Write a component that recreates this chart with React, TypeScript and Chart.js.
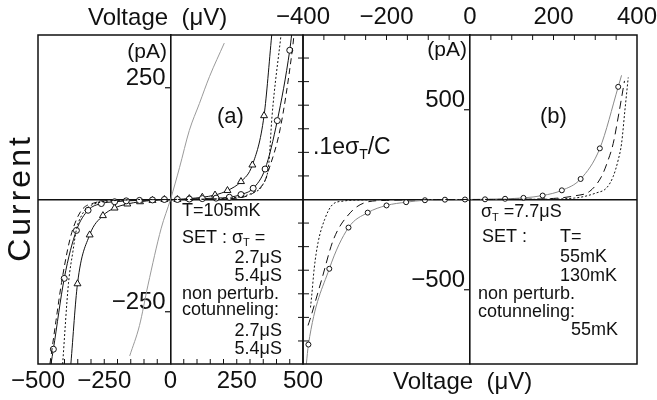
import React, { useEffect, useRef } from 'react';
import { Chart, registerables } from 'chart.js';

Chart.register(...registerables);

const FONT = '"Liberation Sans", Arial, sans-serif';
const INK = '#111111';

// ---------- Panel (a): T = 105 mK ----------
const aXRange = [-500, 500];
const aYRange = [-367, 367];
const aXTicks = [-500, -250, 0, 250, 500];
const aXMinorTicks = [-450, -400, -350, -300, -250, -200, -150, -100, -50, 50, 100, 150, 200, 250, 300, 350, 400, 450];
const aYTicks = [-250, 0, 250];

const aOhmicV = [-154, -117, -85, -35, 0, 34, 71, 109, 147, 203];
const aOhmicI = [-349, -281, -191, -64, 0, 71, 154, 214, 274, 349];

const aSet27V = [-451, -442, -401, -355, -311, -261, -211, -167, -117, -68, -23, 26, 71, 120, 172, 222, 266, 312, 357, 403, 450, 457];
const aSet27I = [-367, -334, -176, -69, -24, -9, -5, -3, -2, -1, 0, 0, 1, 2, 3, 5, 11, 25, 68, 176, 333, 367];

const aSet54V = [-376, -351, -305, -255, -211, -163, -115, -68, -23, 26, 71, 120, 168, 215, 266, 309, 353, 382];
const aSet54I = [-367, -188, -79, -36, -19, -10, -5, -2, 0, 0, 2, 5, 10, 20, 40, 77, 187, 367];

const aCot27V = [-455, -432, -411, -380, -355, -330, -290, -250, -150, 0, 150, 250, 290, 316, 353, 370, 414, 460, 466];
const aCot27I = [-367, -270, -185, -90, -45, -20, -8, -3, -1, 0, 1, 3, 8, 16, 38, 65, 158, 335, 367];

const aCot54V = [-407, -385, -368, -355, -335, -310, -270, -200, -100, 0, 100, 200, 270, 310, 348, 371, 383, 417];
const aCot54I = [-367, -187, -115, -67, -35, -17, -7, -2, 0, 0, 0, 2, 7, 15, 33, 80, 185, 367];

// ---------- Panel (b): sigma_T = 7.7 uS ----------
const bXRange = [-400, 400];
const bYRange = [-914, 914];
const bXTicks = [-400, -200, 0, 200, 400];
const bXMinorTicks = [-350, -300, -250, -200, -150, -100, -50, 50, 100, 150, 200, 250, 300, 350];
const bYTicks = [-500, 0, 500];
const bUnitTicks = [-786, -655, -524, -393, -262, -131, 131, 262, 393, 524, 655, 786];

const bSolidV = [-392, -387, -337, -291, -245, -200, -153, -108, -60, -12, 36, 84, 128, 174, 220, 265, 311, 355, 363];
const bSolidI = [-914, -806, -385, -156, -73, -33, -15, -4, -1, 0, 1, 4, 9, 22, 51, 114, 284, 626, 690];

const bDashV = [-388, -383, -355, -327, -287, -248, -200, -100, 0, 100, 200, 250, 287, 315, 331, 343, 355, 370];
const bDashI = [-700, -665, -443, -222, -74, -15, -5, -1, 0, 1, 6, 20, 46, 128, 220, 311, 458, 659];

const bDotV = [-382, -379, -373, -364, -348, -330, -304, -250, -150, 0, 150, 250, 303, 327, 343, 355, 363, 371, 379];
const bDotI = [-600, -531, -380, -240, -110, -30, -9, -2, 0, 0, 1, 8, 37, 64, 128, 220, 311, 495, 678];

// ---------- helpers ----------
const pts = (v: number[], i: number[]) => v.map((x, k) => ({ x, y: i[k] }));

function curve(v: number[], i: number[], opts: any) {
  const n = v.length;
  const r = opts.marker ? opts.marker.r : 0;
  return {
    data: pts(v, i),
    borderColor: opts.color || INK,
    borderWidth: opts.width || 1,
    borderDash: opts.dash || [],
    cubicInterpolationMode: 'monotone',
    fill: false,
    pointStyle: opts.marker ? opts.marker.style : 'circle',
    pointRadius: (c: any) => (c.dataIndex === 0 || c.dataIndex === n - 1 ? 0 : r),
    pointHoverRadius: 0,
    pointBackgroundColor: '#ffffff',
    pointBorderColor: INK,
    pointBorderWidth: 1,
  };
}

type Part = { t: string; sub?: boolean };

function drawParts(ctx: CanvasRenderingContext2D, parts: Part[], x: number, y: number, size: number, align: 'left' | 'right') {
  const subSize = Math.round(size * 0.62);
  const widths = parts.map((p) => {
    ctx.font = `${p.sub ? subSize : size}px ${FONT}`;
    return ctx.measureText(p.t).width;
  });
  const total = widths.reduce((a, b) => a + b, 0);
  let cx = align === 'right' ? x - total : x;
  ctx.textAlign = 'left';
  ctx.textBaseline = 'middle';
  ctx.fillStyle = INK;
  parts.forEach((p, k) => {
    ctx.font = `${p.sub ? subSize : size}px ${FONT}`;
    ctx.fillText(p.t, cx, p.sub ? y + size * 0.3 : y);
    cx += widths[k];
  });
}

const fmt = (v: number) => (v < 0 ? '\u2212' + Math.abs(v) : String(v));

function frame(ctx: CanvasRenderingContext2D, ca: any) {
  ctx.strokeStyle = INK;
  ctx.lineWidth = 1.5;
  ctx.strokeRect(ca.left, ca.top, ca.right - ca.left, ca.bottom - ca.top);
}

const panelAPlugin = {
  id: 'panelA',
  afterDraw(chart: any) {
    const { ctx, chartArea: ca, scales } = chart;
    ctx.save();
    frame(ctx, ca);
    ctx.lineWidth = 1;
    aXMinorTicks.forEach((v) => {
      const x = scales.x.getPixelForValue(v);
      ctx.beginPath();
      ctx.moveTo(x, ca.bottom);
      ctx.lineTo(x, ca.bottom - 5);
      ctx.stroke();
    });
    drawParts(ctx, [{ t: 'Voltage  (\u03bcV)' }], 88, 18, 24, 'left');
    // rotated title
    ctx.save();
    ctx.translate(21, 198);
    ctx.rotate(-Math.PI / 2);
    ctx.font = `32px ${FONT}`;
    (ctx as any).letterSpacing = '3px';
    ctx.textAlign = 'center';
    ctx.textBaseline = 'middle';
    ctx.fillStyle = INK;
    ctx.fillText('Current', 0, 0);
    ctx.restore();
    drawParts(ctx, [{ t: '(pA)' }], 167, 52, 21, 'right');
    drawParts(ctx, [{ t: '(a)' }], 217, 117, 22, 'left');
    drawParts(ctx, [{ t: 'T=105mK' }], 182, 211, 18, 'left');
    drawParts(ctx, [{ t: 'SET : \u03c3' }, { t: 'T', sub: true }, { t: ' =' }], 182, 238, 18, 'left');
    drawParts(ctx, [{ t: '2.7\u03bcS' }], 282, 258.5, 18, 'right');
    drawParts(ctx, [{ t: '5.4\u03bcS' }], 282, 276.5, 18, 'right');
    drawParts(ctx, [{ t: 'non perturb.' }], 182, 294.5, 18, 'left');
    drawParts(ctx, [{ t: 'cotunneling:' }], 182, 310.5, 18, 'left');
    drawParts(ctx, [{ t: '2.7\u03bcS' }], 282, 331.5, 18, 'right');
    drawParts(ctx, [{ t: '5.4\u03bcS' }], 282, 349, 18, 'right');
    ctx.restore();
  },
};

const panelBPlugin = {
  id: 'panelB',
  afterDraw(chart: any) {
    const { ctx, chartArea: ca, scales } = chart;
    ctx.save();
    frame(ctx, ca);
    ctx.lineWidth = 1;
    bXMinorTicks.forEach((v) => {
      const x = scales.x.getPixelForValue(v);
      ctx.beginPath();
      ctx.moveTo(x, ca.top);
      ctx.lineTo(x, ca.top + 5);
      ctx.stroke();
    });
    bUnitTicks.forEach((v) => {
      const y = scales.y.getPixelForValue(v);
      ctx.beginPath();
      ctx.moveTo(ca.left - 5, y);
      ctx.lineTo(ca.left + 6, y);
      ctx.stroke();
    });
    drawParts(ctx, [{ t: '(pA)' }], 467, 50, 21, 'right');
    drawParts(ctx, [{ t: '(b)' }], 540, 117, 22, 'left');
    drawParts(ctx, [{ t: '.1e\u03c3' }, { t: 'T', sub: true }, { t: '/C' }], 313, 148, 23, 'left');
    drawParts(ctx, [{ t: '\u03c3' }, { t: 'T', sub: true }, { t: ' =7.7\u03bcS' }], 481, 212.5, 18, 'left');
    drawParts(ctx, [{ t: 'SET :' }], 482, 237.5, 18, 'left');
    drawParts(ctx, [{ t: 'T=' }], 560, 237.5, 18, 'left');
    drawParts(ctx, [{ t: '55mK' }], 607, 257.5, 18, 'right');
    drawParts(ctx, [{ t: '130mK' }], 617, 276, 18, 'right');
    drawParts(ctx, [{ t: 'non perturb.' }], 478, 294, 18, 'left');
    drawParts(ctx, [{ t: 'cotunneling:' }], 478, 312, 18, 'left');
    drawParts(ctx, [{ t: '55mK' }], 618, 330, 18, 'right');
    drawParts(ctx, [{ t: 'Voltage  (\u03bcV)' }], 393, 382, 24, 'left');
    ctx.restore();
  },
};

function xAxis(range: number[], ticks: number[], position: 'top' | 'bottom', height: number) {
  return {
    type: 'linear',
    position,
    min: range[0],
    max: range[1],
    grid: { display: false, drawTicks: false },
    border: { display: false },
    afterBuildTicks: (s: any) => {
      s.ticks = ticks.map((value) => ({ value }));
    },
    afterFit: (s: any) => {
      s.height = height;
      s.paddingLeft = 0;
      s.paddingRight = 0;
    },
    ticks: {
      autoSkip: false,
      maxRotation: 0,
      padding: 3,
      color: INK,
      font: { family: FONT, size: 24 },
      callback: (v: number) => fmt(v),
    },
  };
}

function yAxis(range: number[], ticks: number[]) {
  return {
    type: 'linear',
    position: { x: 0 },
    min: range[0],
    max: range[1],
    afterBuildTicks: (s: any) => {
      s.ticks = ticks.map((value) => ({ value }));
    },
    afterFit: (s: any) => {
      s.paddingTop = 0;
      s.paddingBottom = 0;
    },
    grid: {
      drawOnChartArea: true,
      color: (c: any) => (c.tick && c.tick.value === 0 ? INK : 'rgba(0,0,0,0)'),
      lineWidth: 1.5,
      drawTicks: true,
      tickLength: 5,
      tickColor: INK,
      tickWidth: 1.2,
    },
    border: { display: true, color: INK, width: 1.6 },
    ticks: {
      autoSkip: false,
      padding: 0,
      labelOffset: -9,
      color: INK,
      font: { family: FONT, size: 24 },
      callback: (v: number) => (v === 0 ? '' : fmt(v) + '\u2009'),
    },
  };
}

export default function App() {
  const leftRef = useRef<HTMLCanvasElement>(null);
  const rightRef = useRef<HTMLCanvasElement>(null);

  useEffect(() => {
    const left = new Chart(leftRef.current as HTMLCanvasElement, {
      type: 'line',
      data: {
        datasets: [
          curve(aOhmicV, aOhmicI, { color: '#9a9a9a', width: 1 }),
          curve(aCot27V, aCot27I, { dash: [6, 4], width: 1 }),
          curve(aCot54V, aCot54I, { dash: [2, 2], width: 1 }),
          curve(aSet27V, aSet27I, { width: 1, marker: { style: 'circle', r: 3 } }),
          curve(aSet54V, aSet54I, { width: 1, marker: { style: 'triangle', r: 4 } }),
        ] as any,
      },
      options: {
        responsive: false,
        animation: false,
        devicePixelRatio: 1,
        events: [],
        layout: { padding: { left: 38, right: 354, top: 35, bottom: 0 } },
        plugins: { legend: { display: false }, tooltip: { enabled: false } },
        scales: {
          x: xAxis(aXRange, aXTicks, 'bottom', 36),
          y: yAxis(aYRange, aYTicks),
        } as any,
      },
      plugins: [panelAPlugin],
    });

    const right = new Chart(rightRef.current as HTMLCanvasElement, {
      type: 'line',
      data: {
        datasets: [
          curve(bDotV, bDotI, { dash: [2, 2], width: 1 }),
          curve(bDashV, bDashI, { dash: [8, 5], width: 1 }),
          curve(bSolidV, bSolidI, { color: '#8a8a8a', width: 1, marker: { style: 'circle', r: 2.5 } }),
        ] as any,
      },
      options: {
        responsive: false,
        animation: false,
        devicePixelRatio: 1,
        events: [],
        layout: { padding: { left: 303, right: 20, top: 0, bottom: 36 } },
        plugins: { legend: { display: false }, tooltip: { enabled: false } },
        scales: {
          x: xAxis(bXRange, bXTicks, 'top', 35),
          y: yAxis(bYRange, bYTicks),
        } as any,
      },
      plugins: [panelBPlugin],
    });

    return () => {
      left.destroy();
      right.destroy();
    };
  }, []);

  const cs: React.CSSProperties = { position: 'absolute', left: 0, top: 0, width: 657, height: 400 };
  return (
    <div style={{ position: 'absolute', left: 0, top: 0, width: 657, height: 400, overflow: 'hidden', background: '#fff' }}>
      <canvas ref={leftRef} width={657} height={400} style={cs} />
      <canvas ref={rightRef} width={657} height={400} style={cs} />
    </div>
  );
}
